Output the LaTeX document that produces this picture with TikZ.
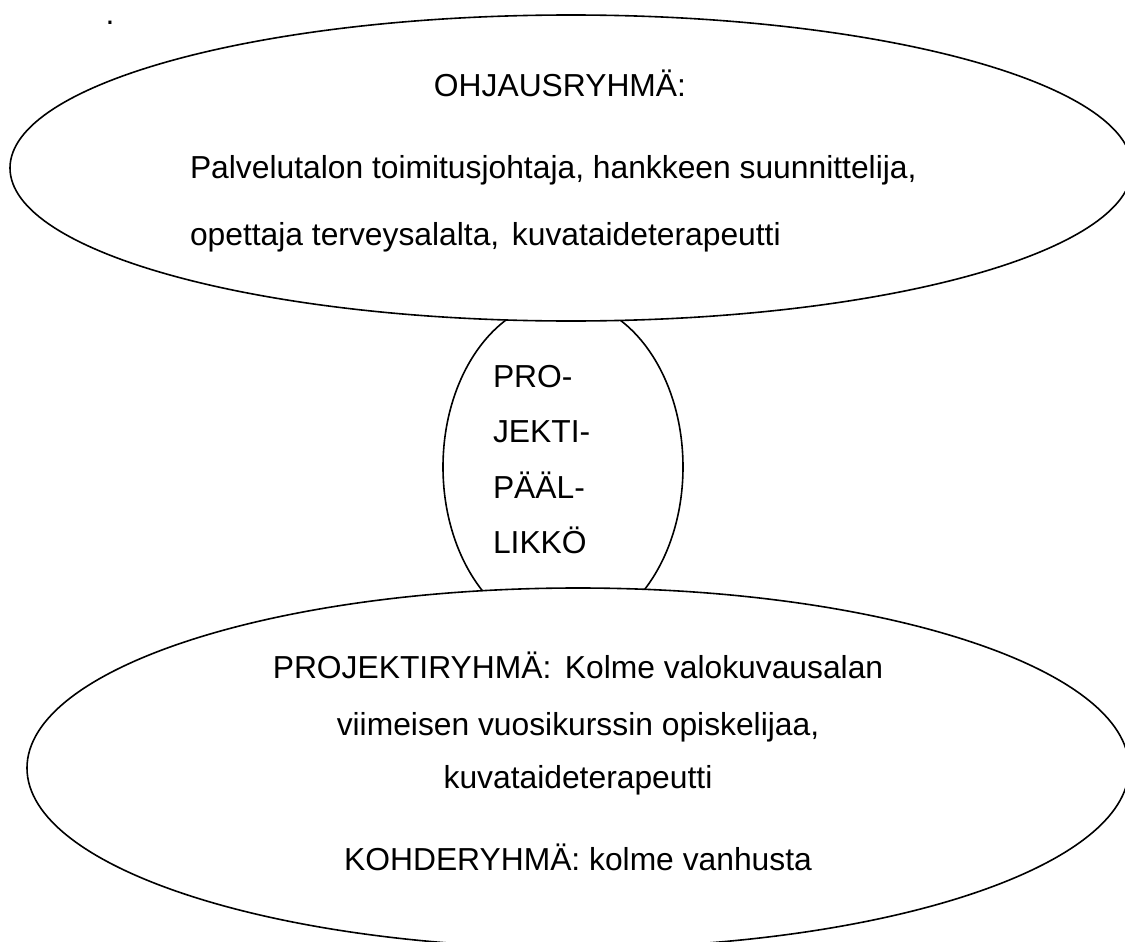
\documentclass[tikz,border=0pt]{standalone}
\usepackage{fontspec}
\setmainfont{Liberation Sans}
\usetikzlibrary{shapes.geometric}
\tikzset{
  oval/.style={ellipse, draw=black, line width=1.6pt, fill=white, inner sep=0pt, outer sep=0pt},
  txt/.style={inner sep=0pt, outer sep=0pt, font=\fontsize{31.8}{38}\selectfont},
}
\begin{document}
\begin{tikzpicture}[x=1pt,y=-1pt]
\useasboundingbox (0,0) rectangle (1125,942);
\clip (0,0) rectangle (1125,942);
\node[txt, anchor=base] (dot) at (110,25) {.};
% middle ellipse (behind)
\node[oval, minimum width=240pt, minimum height=334pt] (mid) at (563,467) {};
% top and bottom ellipses
\node[oval, minimum width=1122pt, minimum height=306pt] (top) at (571,168) {};
\node[oval, minimum width=1102pt, minimum height=360pt] (bot) at (578,768) {};
% top texts
\node[txt, anchor=base] (t1) at (560,96) {OHJAUSRYHMÄ:};
\node[txt, anchor=base west] (t2) at (190,178) {Palvelutalon toimitusjohtaja, hankkeen suunnittelija,};
\node[txt, anchor=base west] (t3) at (190,245) {opettaja terveysalalta,\hspace{0.12em} kuvataideterapeutti};
% middle texts
\node[txt, anchor=base west] (m1) at (493,387) {PRO-};
\node[txt, anchor=base west] (m2) at (493,442) {JEKTI-};
\node[txt, anchor=base west] (m3) at (493,498) {PÄÄL-};
\node[txt, anchor=base west] (m4) at (493,553) {LIKKÖ};
% bottom texts
\node[txt, anchor=base] (b1) at (578,678) {PROJEKTIRYHMÄ:\hspace{0.15em} Kolme valokuvausalan};
\node[txt, anchor=base] (b2) at (578,735) {viimeisen vuosikurssin opiskelijaa,};
\node[txt, anchor=base] (b3) at (578,788) {kuvataideterapeutti};
\node[txt, anchor=base] (b4) at (578,870) {KOHDERYHMÄ: kolme vanhusta};
\end{tikzpicture}
\end{document}
